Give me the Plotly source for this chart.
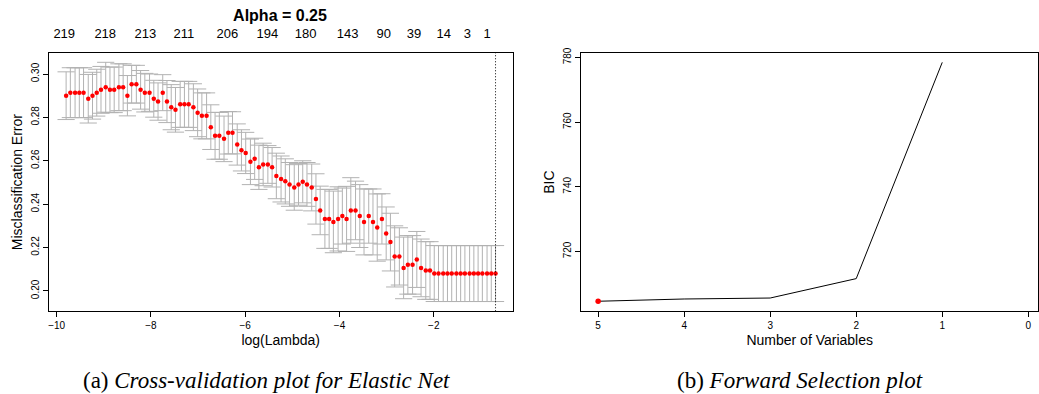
import plotly.graph_objects as go

# ---------------- data: (a) cross-validation curve ----------------
log_lambda = [
    -9.80, -9.71, -9.61, -9.52, -9.43, -9.33, -9.24, -9.15, -9.06, -8.96,
    -8.87, -8.78, -8.68, -8.59, -8.50, -8.41, -8.31, -8.22, -8.13, -8.03,
    -7.94, -7.85, -7.75, -7.66, -7.57, -7.48, -7.38, -7.29, -7.20, -7.10,
    -7.01, -6.92, -6.82, -6.73, -6.64, -6.55, -6.45, -6.36, -6.27, -6.17,
    -6.08, -5.99, -5.89, -5.80, -5.71, -5.62, -5.52, -5.43, -5.34, -5.24,
    -5.15, -5.06, -4.96, -4.87, -4.78, -4.69, -4.59, -4.50, -4.41, -4.31,
    -4.22, -4.13, -4.03, -3.94, -3.85, -3.76, -3.66, -3.57, -3.48, -3.38,
    -3.29, -3.20, -3.10, -3.01, -2.92, -2.83, -2.73, -2.64, -2.55, -2.45,
    -2.36, -2.27, -2.17, -2.08, -1.99, -1.90, -1.80, -1.71, -1.62, -1.52,
    -1.43, -1.34, -1.24, -1.15, -1.06, -0.97, -0.87, -0.78, -0.69,
]
cv_mean = [
    0.2900, 0.2914, 0.2914, 0.2914, 0.2914, 0.2886, 0.2900, 0.2914, 0.2927, 0.2939,
    0.2927, 0.2927, 0.2939, 0.2939, 0.2900, 0.2953, 0.2953, 0.2927, 0.2914, 0.2914,
    0.2886, 0.2873, 0.2914, 0.2873, 0.2847, 0.2835, 0.2860, 0.2860, 0.2860, 0.2847,
    0.2821, 0.2807, 0.2807, 0.2755, 0.2715, 0.2715, 0.2701, 0.2729, 0.2729, 0.2675,
    0.2648, 0.2636, 0.2595, 0.2609, 0.2570, 0.2583, 0.2583, 0.2570, 0.2530, 0.2516,
    0.2505, 0.2491, 0.2477, 0.2491, 0.2503, 0.2491, 0.2477, 0.2424, 0.2371, 0.2332,
    0.2332, 0.2318, 0.2332, 0.2345, 0.2332, 0.2371, 0.2371, 0.2345, 0.2318, 0.2345,
    0.2318, 0.2292, 0.2332, 0.2265, 0.2225, 0.2159, 0.2159, 0.2106, 0.2120, 0.2120,
    0.2145, 0.2106, 0.2094, 0.2094, 0.2080, 0.2080, 0.2080, 0.2080, 0.2080, 0.2080,
    0.2080, 0.2080, 0.2080, 0.2080, 0.2080, 0.2080, 0.2080, 0.2080, 0.2080,
]
cv_sd = [
    0.0110, 0.0115, 0.0115, 0.0115, 0.0115, 0.0112, 0.0108, 0.0108, 0.0108, 0.0115,
    0.0105, 0.0105, 0.0108, 0.0108, 0.0093, 0.0087, 0.0087, 0.0089, 0.0089, 0.0086,
    0.0085, 0.0086, 0.0083, 0.0097, 0.0104, 0.0103, 0.0106, 0.0106, 0.0106, 0.0108,
    0.0110, 0.0106, 0.0106, 0.0103, 0.0108, 0.0108, 0.0105, 0.0098, 0.0097, 0.0095,
    0.0095, 0.0095, 0.0105, 0.0095, 0.0102, 0.0098, 0.0087, 0.0091, 0.0105, 0.0106,
    0.0104, 0.0101, 0.0105, 0.0096, 0.0097, 0.0101, 0.0108, 0.0116, 0.0112, 0.0136,
    0.0136, 0.0142, 0.0148, 0.0129, 0.0150, 0.0151, 0.0135, 0.0145, 0.0152, 0.0125,
    0.0152, 0.0155, 0.0116, 0.0122, 0.0133, 0.0141, 0.0132, 0.0142, 0.0135, 0.0135,
    0.0129, 0.0133, 0.0133, 0.0133, 0.0129, 0.0129, 0.0129, 0.0129, 0.0129, 0.0129,
    0.0129, 0.0129, 0.0129, 0.0129, 0.0129, 0.0129, 0.0129, 0.0129, 0.0129,
]
top_tick_pos = [-9.84, -8.97, -8.12, -7.30, -6.38, -5.53, -4.72, -3.83, -3.06, -2.42, -1.79, -1.29, -0.87]
top_tick_labels = ["219", "218", "213", "211", "206", "194", "180", "143", "90", "39", "14", "3", "1"]
lambda_min_log = -0.69

# ---------------- data: (b) forward selection ----------------
n_vars = [5, 4, 3, 2, 1]
bic = [704.6, 705.3, 705.6, 711.6, 778.5]
best_n = [5]
best_bic = [704.6]

FONT = "Liberation Sans, Arial, sans-serif"
SERIF = "Liberation Serif, Times New Roman, serif"
W, H = 1039, 394

fig = go.Figure()

fig.add_trace(go.Scatter(
    x=log_lambda, y=cv_mean, mode="markers",
    marker=dict(color="red", size=4.5),
    error_y=dict(type="data", array=cv_sd, visible=True,
                 color="#b2b2b2", thickness=1, width=8.6),
    xaxis="x", yaxis="y", hoverinfo="skip", showlegend=False,
))
# carrier for the top (number of non-zero coefficients) axis
fig.add_trace(go.Scatter(
    x=top_tick_pos, y=[None] * len(top_tick_pos), mode="markers",
    xaxis="x3", yaxis="y", hoverinfo="skip", showlegend=False,
))

fig.add_trace(go.Scatter(
    x=n_vars, y=bic, mode="lines", line=dict(color="black", width=1),
    xaxis="x2", yaxis="y2", hoverinfo="skip", showlegend=False,
))
fig.add_trace(go.Scatter(
    x=best_n, y=best_bic, mode="markers", marker=dict(color="red", size=5.5),
    xaxis="x2", yaxis="y2", hoverinfo="skip", showlegend=False,
))

ydom = [84 / H, 346.3 / H]
common = dict(showline=True, mirror=True, linecolor="black", linewidth=1,
              ticks="outside", ticklen=5, tickcolor="black", showgrid=False,
              zeroline=False, tickfont=dict(family=FONT, size=10, color="black"))

fig.update_layout(
    width=W, height=H,
    margin=dict(l=0, r=0, t=0, b=0),
    paper_bgcolor="white", plot_bgcolor="white",
    showlegend=False,
    font=dict(family=FONT, color="black"),
    title=dict(text="<b>Alpha = 0.25</b>", x=280 / W, xanchor="center",
               y=1 - 15 / H, yanchor="middle", yref="container",
               font=dict(family=FONT, size=16, color="black")),
    xaxis=dict(domain=[48 / W, 512 / W], range=[-10.164, -0.33], anchor="y",
               tickvals=[-10, -8, -6, -4, -2],
               title=dict(text="log(Lambda)", font=dict(size=14), standoff=4),
               **common),
    yaxis=dict(domain=ydom, range=[0.1906, 0.3097], anchor="x",
               tickvals=[0.20, 0.22, 0.24, 0.26, 0.28, 0.30], tickformat=".2f",
               tickangle=-90,
               title=dict(text="Misclassification Error", font=dict(size=14), standoff=4),
               **common),
    xaxis3=dict(overlaying="x", side="top", anchor="y", range=[-10.164, -0.33],
                tickmode="array", tickvals=top_tick_pos, ticktext=top_tick_labels,
                ticks="", showline=False, showgrid=False, zeroline=False,
                tickfont=dict(family=FONT, size=13, color="black"),
                ticklabelstandoff=11),
    xaxis2=dict(domain=[581 / W, 1038 / W], range=[5.194, -0.113], anchor="y2",
                tickvals=[5, 4, 3, 2, 1, 0],
                title=dict(text="Number of Variables", font=dict(size=14), standoff=4),
                **common),
    yaxis2=dict(domain=ydom, range=[701.5, 781.4], anchor="x2",
                tickvals=[720, 740, 760, 780], tickangle=-90,
                title=dict(text="BIC", font=dict(size=14), standoff=4),
                **common),
    shapes=[dict(type="line", xref="x", yref="y domain", x0=lambda_min_log, x1=lambda_min_log,
                 y0=0, y1=1, line=dict(color="black", width=1, dash="1px,2px"))],
    annotations=[
        dict(text="(a) <i>Cross-validation plot for Elastic Net</i>", xref="paper", yref="paper",
             x=266 / W, y=(H - 380) / H, xanchor="center", yanchor="middle", showarrow=False,
             font=dict(family=SERIF, size=23, color="black")),
        dict(text="(b) <i>Forward Selection plot</i>", xref="paper", yref="paper",
             x=800 / W, y=(H - 380) / H, xanchor="center", yanchor="middle", showarrow=False,
             font=dict(family=SERIF, size=23, color="black")),
    ],
)

fig.write_html("out.html")
